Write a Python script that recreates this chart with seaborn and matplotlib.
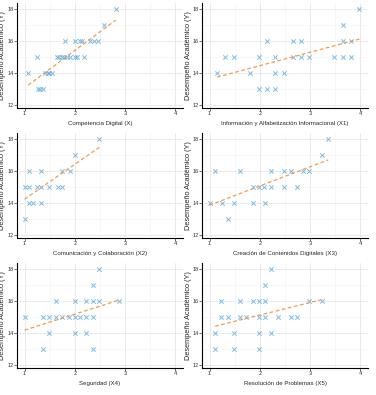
import numpy as np
import pandas as pd
import seaborn as sns
import matplotlib.pyplot as plt
from matplotlib.ticker import MultipleLocator

# Competencia Digital (X)
comp_x = [1.07, 1.25, 1.27, 1.31, 1.36, 1.41, 1.46, 1.49, 1.55, 1.65, 1.68, 1.75, 1.79, 1.85,
          1.80, 1.91, 2.00, 2.05, 2.18, 2.00, 2.11, 2.15, 2.31, 2.38, 2.47, 2.57, 2.81]
comp_y = [14, 15, 13, 13, 13, 14, 14, 14, 14, 15, 15, 15, 15, 15,
          16, 15, 15, 15, 15, 16, 16, 16, 16, 16, 16, 17, 18]

# Información y Alfabetización Informacional (X1)
info_x = [1.15, 1.31, 1.48, 1.81, 1.98, 1.98, 2.15, 2.15, 2.31, 2.31, 2.31, 2.48,
          2.65, 2.65, 2.81, 2.81, 2.98, 3.48, 3.65, 3.65, 3.65, 3.81, 3.81, 3.98]
info_y = [14, 15, 15, 14, 15, 13, 16, 13, 15, 14, 13, 14,
          16, 15, 16, 15, 15, 15, 15, 16, 17, 15, 16, 18]

# Comunicación y Colaboración (X2)
comu_x = [1.00, 1.00, 1.08, 1.08, 1.08, 1.17, 1.25, 1.33, 1.33, 1.33, 1.49,
          1.67, 1.75, 1.75, 1.91, 2.00, 2.49]
comu_y = [13, 15, 15, 16, 14, 14, 15, 16, 14, 15, 15,
          15, 15, 16, 16, 17, 18]

# Creación de Contenidos Digitales (X3)
crea_x = [1.00, 1.11, 1.25, 1.37, 1.49, 1.61, 1.86, 1.86, 1.98, 2.08, 2.11,
          2.23, 2.23, 2.48, 2.48, 2.61, 2.73, 2.86, 2.98, 3.23, 3.36]
crea_y = [14, 16, 14, 13, 14, 16, 15, 14, 15, 15, 14,
          16, 15, 16, 15, 16, 15, 16, 16, 17, 18]

# Seguridad (X4)
segu_x = [1.00, 1.37, 1.37, 1.49, 1.49, 1.63, 1.63, 1.75, 1.88, 2.00, 2.00, 2.00,
          2.11, 2.23, 2.23, 2.23, 2.37, 2.37, 2.37, 2.37, 2.49, 2.49, 2.87]
segu_y = [15, 15, 13, 15, 14, 16, 15, 15, 15, 16, 15, 14,
          15, 16, 15, 14, 16, 15, 17, 13, 16, 18, 16]

# Resolución de Problemas (X5)
reso_x = [1.11, 1.11, 1.23, 1.23, 1.37, 1.49, 1.49, 1.61, 1.61, 1.73, 1.86, 1.98,
          1.98, 1.98, 1.98, 2.11, 2.11, 2.11, 2.23, 2.23, 2.37, 2.61, 2.73, 2.98, 3.23]
reso_y = [14, 13, 16, 15, 15, 14, 13, 16, 15, 15, 16, 16,
          15, 14, 13, 16, 17, 15, 18, 14, 15, 15, 15, 16, 16]

panels = [
    (comp_x, comp_y, 'Competencia Digital (X)'),
    (info_x, info_y, 'Información y Alfabetización Informacional (X1)'),
    (comu_x, comu_y, 'Comunicación y Colaboración (X2)'),
    (crea_x, crea_y, 'Creación de Contenidos Digitales (X3)'),
    (segu_x, segu_y, 'Seguridad (X4)'),
    (reso_x, reso_y, 'Resolución de Problemas (X5)'),
]

sns.set_style('white')
plt.rcParams['font.family'] = ['Liberation Sans', 'DejaVu Sans']

W, H = 376, 395
fig = plt.figure(figsize=(W / 100, H / 100), dpi=100)

lefts = [17, 202]
tops = [3, 133, 263]
pw, ph = 166, 105

for i, (xs, ys, label) in enumerate(panels):
    r, c = divmod(i, 2)
    ax = fig.add_axes([lefts[c] / W, 1 - (tops[r] + ph) / H, pw / W, ph / H])
    df = pd.DataFrame({'x': xs, 'y': ys})
    sns.regplot(data=df, x='x', y='y', ax=ax, ci=None, marker='x',
                scatter_kws={'color': '#5DADE2', 's': 10, 'linewidths': 0.7},
                line_kws={'color': '#F39C4A', 'linestyle': (0, (3, 2)), 'linewidth': 0.9})
    ax.set_xlim(0.85, 4.15)
    ax.set_ylim(11.8, 18.4)
    ax.xaxis.set_major_locator(MultipleLocator(1))
    ax.xaxis.set_minor_locator(MultipleLocator(0.5))
    ax.yaxis.set_major_locator(MultipleLocator(2))
    ax.yaxis.set_minor_locator(MultipleLocator(1))
    ax.grid(True, which='major', color='#E6E6E6', linewidth=0.6)
    ax.grid(True, which='minor', color='#F2F2F2', linewidth=0.4)
    ax.set_axisbelow(True)
    for s in ['top', 'right']:
        ax.spines[s].set_visible(False)
    for s in ['left', 'bottom']:
        ax.spines[s].set_color('black')
        ax.spines[s].set_linewidth(0.8)
    ax.tick_params(which='major', length=2, width=0.5, labelsize=4, pad=0.5,
                   colors='#333333', left=True, bottom=True)
    ax.tick_params(which='minor', length=0)
    ax.set_xlabel(label, fontsize=4.4, labelpad=3)
    ax.set_ylabel('Desempeño Académico (Y)', fontsize=5.3)
    ax.yaxis.set_label_coords(-10.5 / pw, 0.5)

plt.savefig('out.png', dpi=100)
